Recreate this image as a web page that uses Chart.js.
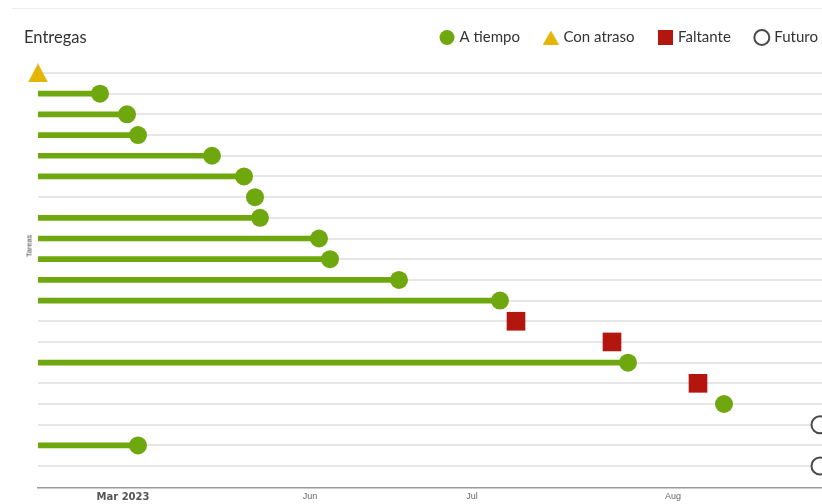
<!DOCTYPE html>
<html>
<head>
<meta charset="utf-8">
<script src="https://cdn.jsdelivr.net/npm/chart.js@4/dist/chart.umd.min.js"></script>
<style>
  html, body { margin: 0; padding: 0; background: #fff; }
  #wrap { position: relative; width: 822px; height: 504px; overflow: hidden; }
  #borde { position: absolute; left: 12px; right: 0; top: 8px; border-top: 1px solid #ececec; }
  #titulo { position: absolute; left: 24px; top: 27px; font: 16.5px Lato, sans-serif; color: #333; }
  #ytitulo { position: absolute; left: 29px; top: 246px; font: 7.5px "Liberation Sans", Arial, sans-serif; color: #444;
             transform: translate(-50%, -50%) rotate(-90deg); white-space: nowrap; }
  #lienzo { position: absolute; left: 0; top: 0; }
</style>
</head>
<body>
<div id="wrap">
  <div id="borde"></div>
  <canvas id="lienzo" width="844" height="504"></canvas>
  <div id="titulo">Entregas</div>
  <div id="ytitulo">Tareas</div>
</div>
<script>
// Datos (una fila por tarea, de arriba hacia abajo)
const tareas = ["Tarea 1", "Tarea 2", "Tarea 3", "Tarea 4", "Tarea 5", "Tarea 6", "Tarea 7", "Tarea 8", "Tarea 9", "Tarea 10",
                "Tarea 11", "Tarea 12", "Tarea 13", "Tarea 14", "Tarea 15", "Tarea 16", "Tarea 17", "Tarea 18", "Tarea 19", "Tarea 20"];
const estados = ["Con atraso", "A tiempo", "A tiempo", "A tiempo", "A tiempo", "A tiempo", "A tiempo", "A tiempo", "A tiempo", "A tiempo",
                 "A tiempo", "A tiempo", "Faltante", "Faltante", "A tiempo", "Faltante", "A tiempo", "Futuro", "A tiempo", "Futuro"];
const inicio  = [null, 0, 0, 0, 0, 0, null, 0, 0, 0, 0, 0, null, null, 0, null, null, null, 0, null];
const entrega = [0, 62, 89, 100, 174, 206, 217, 222, 281, 292, 361, 462, 478, 574, 590, 660, 686, 782, 100, 782];

// Eje temporal (posiciones de las marcas)
const xTickValues = [85, 272, 434, 635];
const xTickLabels = ["Mar 2023", "Jun", "Jul", "Aug"];

const verde = "#6fa80e";
const amarillo = "#e3b505";
const rojo = "#b3160f";
const gris = "#4a4a4a";

function puntos(estado) {
    const out = [];
    estados.forEach((e, i) => { if (e === estado) out.push({ x: entrega[i], y: i }); });
    return out;
}

const barras = [];
inicio.forEach((v, i) => { if (v !== null) barras.push({ x: [v, entrega[i]], y: i }); });

// iconos: cuadro de leyenda y triangulos (leyenda y grafico)
function icono(w, h, dibujar) {
    const c = document.createElement("canvas");
    c.width = w; c.height = h;
    dibujar(c.getContext("2d"), w, h);
    return c;
}
const cuadro = icono(15, 15, (g, w, h) => { g.fillStyle = rojo; g.fillRect(0, 0, w, h); });
const trianguloDe = (w, h) => icono(w, h, (g) => {
    g.fillStyle = amarillo;
    g.beginPath();
    g.moveTo(w / 2, 0); g.lineTo(w, h); g.lineTo(0, h);
    g.closePath();
    g.fill();
});
const trianguloLeyenda = trianguloDe(16, 14);
const trianguloPunto = trianguloDe(20, 19);

new Chart(document.getElementById("lienzo"), {
    type: "scatter",
    data: {
        datasets: [
            { label: "A tiempo", data: puntos("A tiempo"), pointStyle: "circle", pointRadius: 9, pointHoverRadius: 9,
              backgroundColor: verde, borderColor: verde, borderWidth: 0, order: 0, clip: false },
            { label: "Con atraso", data: puntos("Con atraso"), pointStyle: trianguloPunto, pointRadius: 10, pointHoverRadius: 10,
              backgroundColor: amarillo, borderColor: amarillo, borderWidth: 0, order: 0, clip: false },
            { label: "Faltante", data: puntos("Faltante"), pointStyle: "rect", pointRadius: 13.2, pointHoverRadius: 13.2,
              backgroundColor: rojo, borderColor: rojo, borderWidth: 0, order: 0, clip: false },
            { label: "Futuro", data: puntos("Futuro"), pointStyle: "circle", pointRadius: 8.5, pointHoverRadius: 8.5,
              backgroundColor: "#fff", borderColor: gris, borderWidth: 2, order: 0, clip: false },
            { type: "bar", label: "linea", data: barras, indexAxis: "y", barThickness: 5,
              backgroundColor: verde, borderWidth: 0, borderSkipped: false, order: 1 }
        ]
    },
    options: {
        responsive: false,
        animation: false,
        layout: { autoPadding: false, padding: { top: 4, left: 0, right: 0, bottom: 0 } },
        plugins: {
            tooltip: { enabled: false },
            title: { display: false },
            legend: {
                position: "top",
                align: "end",
                labels: {
                    usePointStyle: true,
                    boxWidth: 10,
                    boxHeight: 10.6,
                    padding: 26,
                    color: "#333",
                    font: { family: "Lato", size: 15 },
                    filter: item => item.text !== "linea",
                    generateLabels: chart => {
                        const items = Chart.defaults.plugins.legend.labels.generateLabels(chart);
                        items.forEach(it => {
                            if (it.text === "Faltante") it.pointStyle = cuadro;
                            if (it.text === "Con atraso") it.pointStyle = trianguloLeyenda;
                        });
                        return items;
                    }
                }
            }
        },
        scales: {
            x: {
                type: "linear",
                min: 0,
                max: 806,
                afterBuildTicks: s => { s.ticks = xTickValues.map(v => ({ value: v })); },
                afterFit: s => { s.height = 16; },
                grid: { display: false, drawTicks: false },
                border: { display: true, color: "#9a9a9a", width: 1.5 },
                ticks: {
                    padding: 3,
                    maxRotation: 0,
                    autoSkip: false,
                    color: ctx => ctx.index === 0 ? "#555" : "#666",
                    font: ctx => ctx.index === 0
                        ? { family: "DejaVu Sans", size: 10, weight: "bold" }
                        : { family: "Liberation Sans", size: 9 },
                    callback: (v, i) => xTickLabels[i]
                }
            },
            y: {
                type: "linear",
                reverse: true,
                offset: false,
                min: -0.87,
                max: 20.06,
                afterBuildTicks: s => { s.ticks = tareas.map((t, i) => ({ value: i })); },
                afterFit: s => { s.width = 38; },
                grid: { color: "#e6e6e6", lineWidth: 2, drawTicks: false, offset: false },
                border: { display: false },
                ticks: { display: false }
            }
        }
    }
});
</script>
</body>
</html>
